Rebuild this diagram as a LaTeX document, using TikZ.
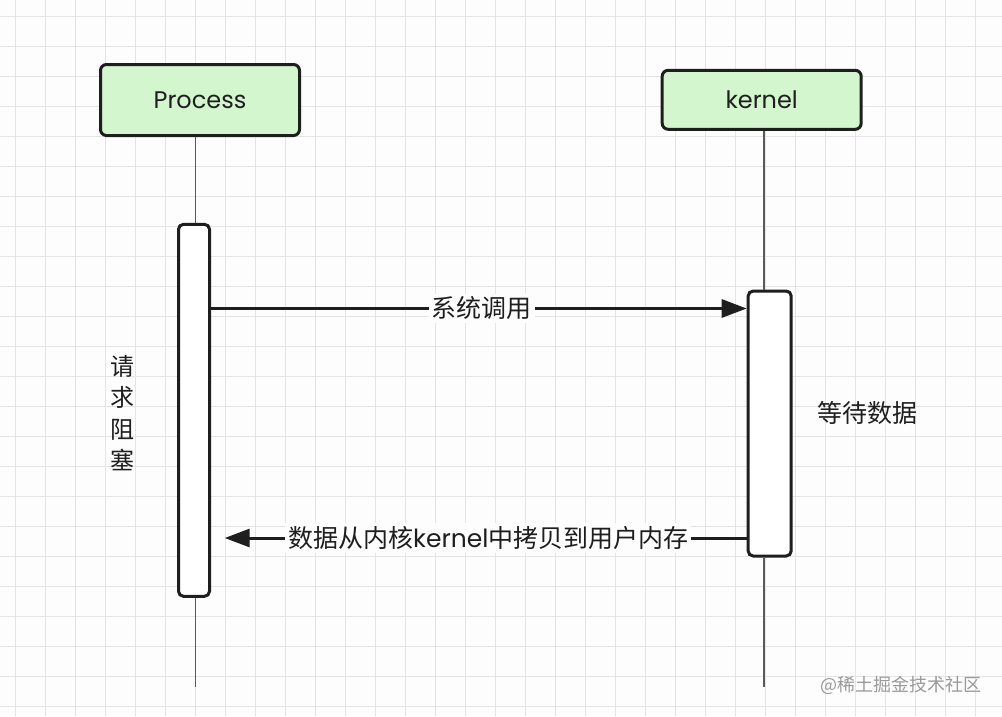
\documentclass[tikz,border=0pt]{standalone}
\usepackage{fontspec}
\setmainfont{Poppins}
\newfontfamily\cjk{Noto Sans CJK SC}
\newfontfamily\lat{Poppins}
\usetikzlibrary{arrows.meta}
\definecolor{bgcol}{HTML}{FDFDFD}
\definecolor{gridcol}{HTML}{E4E4E4}
\definecolor{headfill}{HTML}{D4F6CF}
\definecolor{inkcol}{HTML}{1E1E1E}
\definecolor{lifecol}{HTML}{5A5A5A}
\definecolor{wmcol}{HTML}{9A9A9A}
\tikzset{
  gridline/.style={draw=gridcol, line width=1pt},
  head/.style={draw=inkcol, fill=headfill, line width=3pt, rounded corners=6pt,
    minimum width=199pt, text=inkcol, font=\lat\fontsize{24}{28}\selectfont},
  actbox/.style={draw=inkcol, fill=white, line width=3pt, rounded corners=5pt},
  life/.style={draw=lifecol, line width=1.2pt},
  msg/.style={draw=inkcol, line width=3pt, -{Triangle[length=25pt,width=18pt]}},
  msglabel/.style={fill=bgcol, inner sep=3pt, text=inkcol, font=\cjk\fontsize{25}{30}\selectfont},
  plaintext/.style={text=inkcol, font=\cjk\fontsize{25}{30}\selectfont},
}
\begin{document}
\begin{tikzpicture}[x=1pt,y=-1pt]
\useasboundingbox (0,0) rectangle (1002,716);
\fill[bgcol] (0,0) rectangle (1002,716);
\foreach \k in {0,...,33} \draw[gridline] (15+30*\k,0) -- (15+30*\k,716);
\foreach \k in {0,...,23} \draw[gridline] (0,16.7+30*\k) -- (1002,16.7+30*\k);

% headers
\node[head, minimum height=71pt] (P) at (200,100) {Process};
\node[head, minimum height=59pt] (K) at (761.7,99.8) {kernel};

% activation boxes
\node[actbox, minimum width=31pt, minimum height=372pt] (pa) at (194,410.3) {};
\node[actbox, minimum width=43pt, minimum height=265pt] (ka) at (769.7,423.5) {};

% lifelines
\coordinate (pl) at (195.7,0);
\coordinate (kl) at (764,0);
\coordinate (pe) at (195.7,686.7);
\coordinate (ke) at (764,686.7);
\draw[life] (P.south -| pl) -- (pa.north -| pl);
\draw[life] (pa.south -| pl) -- (pe);
\draw[life] (K.south -| kl) -- (ka.north -| kl);
\draw[life] (ka.south -| kl) -- (ke);

% messages
\coordinate (a1) at (0,308.5);
\coordinate (a2) at (0,538);
\coordinate (t2) at (224.7,538);
\draw[msg] (pa.east |- a1) -- node[msglabel, pos=0.505] (l1) {系统调用} (ka.west |- a1);
\draw[msg] (ka.west |- a2) -- node[msglabel, pos=0.495] (l2) {数据从内核{\lat kernel}中拷贝到用户内存} (t2);

% side texts
\node[plaintext] (wait) at (867,413) {等待数据};
\node[text=inkcol, align=center, font=\cjk\fontsize{24}{31.3}\selectfont] (block) at (122,413) {请\\求\\阻\\塞};

% watermark
\node[text=wmcol, font=\cjk\fontsize{18}{22}\selectfont] (wm) at (901,685) {@稀土掘金技术社区};
\end{tikzpicture}
\end{document}
